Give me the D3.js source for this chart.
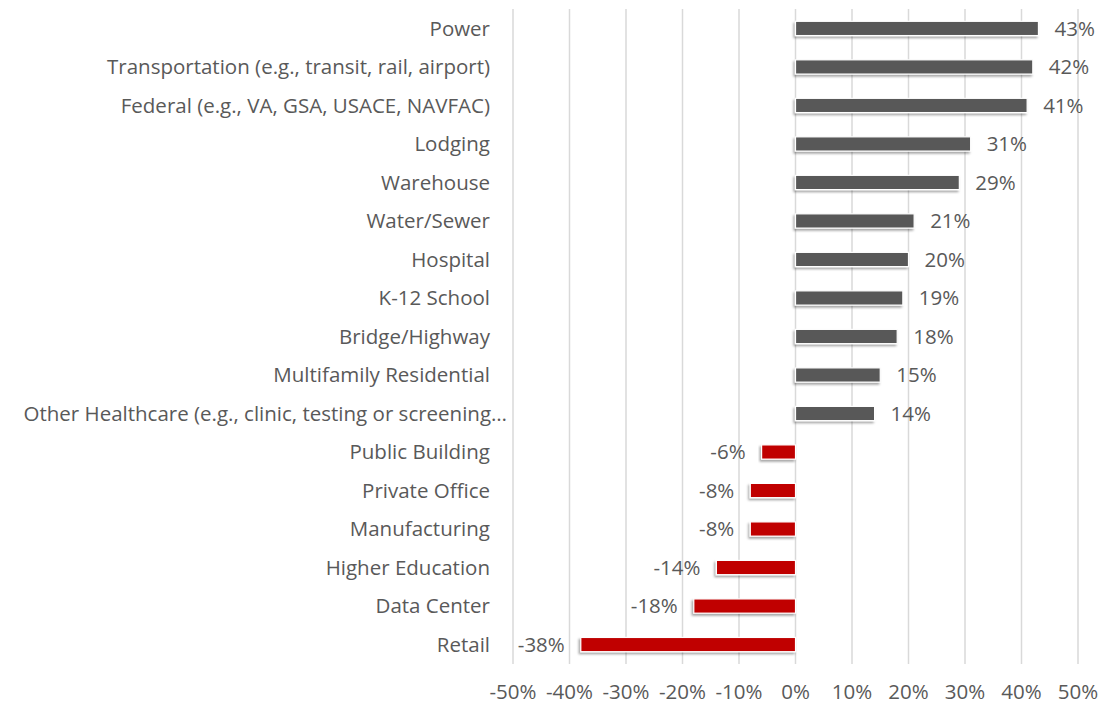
<!DOCTYPE html>
<html>
<head>
<meta charset="utf-8">
<script src="https://cdn.jsdelivr.net/npm/d3@7"></script>
<style>
  body { margin: 0; background: #fff; }
  text { font-family: "Open Sans", sans-serif; fill: #595959; }
</style>
</head>
<body>
<div class="chart"></div>
<script>
// Data.
const categories = [
    'Power',
    'Transportation (e.g., transit, rail, airport)',
    'Federal (e.g., VA, GSA, USACE, NAVFAC)',
    'Lodging',
    'Warehouse',
    'Water/Sewer',
    'Hospital',
    'K-12 School',
    'Bridge/Highway',
    'Multifamily Residential',
    'Other Healthcare (e.g., clinic, testing or screening\u2026',
    'Public Building',
    'Private Office',
    'Manufacturing',
    'Higher Education',
    'Data Center',
    'Retail'
];
const values = [43, 42, 41, 31, 29, 21, 20, 19, 18, 15, 14, -6, -8, -8, -14, -18, -38];
const xTicks = [-50, -40, -30, -20, -10, 0, 10, 20, 30, 40, 50];

// Dimensions.
const width = 1099, height = 707;
const margin = { top: 9, right: 21, bottom: 43, left: 513 };
const fontSize = 20.5,
    labelGap = 16;

const svg = d3.select('.chart')
    .append('svg')
        .attr('width', width)
        .attr('height', height);

// Drop shadow for bars.
const defs = svg.append('defs');
const filter = defs.append('filter')
    .attr('id', 'shadow')
    .attr('x', '-10%').attr('y', '-50%')
    .attr('width', '120%').attr('height', '200%');
filter.append('feDropShadow')
    .attr('dx', -1.5).attr('dy', 2)
    .attr('stdDeviation', 1.2)
    .attr('flood-color', '#000')
    .attr('flood-opacity', 0.35);

// Scales.
const x = d3.scaleLinear()
    .domain([-50, 50])
    .range([margin.left, width - margin.right]);

const y = d3.scaleBand()
    .domain(categories)
    .range([margin.top, height - margin.bottom])
    .paddingInner(0.63)
    .paddingOuter(0.32);

// Gridlines.
svg.append('g')
    .attr('class', 'grid')
    .selectAll('line')
    .data(xTicks)
    .join('line')
        .attr('x1', d => x(d))
        .attr('x2', d => x(d))
        .attr('y1', margin.top)
        .attr('y2', height - margin.bottom)
        .attr('stroke', '#d9d9d9')
        .attr('stroke-width', 1.5);

// X axis labels.
svg.append('g')
    .attr('class', 'x-axis')
    .selectAll('text')
    .data(xTicks)
    .join('text')
        .attr('x', d => x(d))
        .attr('y', 699)
        .attr('text-anchor', 'middle')
        .attr('font-size', fontSize)
        .text(d => d + '%');

// Category labels (the truncated one overhangs, as Excel draws it).
svg.append('g')
    .attr('class', 'y-axis')
    .selectAll('text')
    .data(categories)
    .join('text')
        .attr('x', d => d.endsWith('\u2026') ? 507 : 490)
        .attr('y', d => y(d) + y.bandwidth() / 2)
        .attr('dy', '0.35em')
        .attr('text-anchor', 'end')
        .attr('font-size', fontSize)
        .text(d => d);

const rows = categories.map((c, i) => ({ cat: c, val: values[i] }));

// Bars.
svg.append('g')
    .attr('class', 'bars')
    .selectAll('rect')
    .data(rows)
    .join('rect')
        .attr('x', d => x(Math.min(0, d.val)))
        .attr('y', d => y(d.cat))
        .attr('width', d => Math.abs(x(d.val) - x(0)))
        .attr('height', y.bandwidth())
        .attr('fill', d => d.val < 0 ? '#c00000' : '#595959')
        .attr('stroke', '#fff')
        .attr('stroke-width', 1.2)
        .attr('filter', 'url(#shadow)');

// Value labels.
svg.append('g')
    .attr('class', 'labels')
    .selectAll('text')
    .data(rows)
    .join('text')
        .attr('x', d => d.val < 0 ? x(d.val) - labelGap : x(d.val) + labelGap)
        .attr('y', d => y(d.cat) + y.bandwidth() / 2)
        .attr('dy', '0.35em')
        .attr('text-anchor', d => d.val < 0 ? 'end' : 'start')
        .attr('font-size', fontSize)
        .text(d => d.val + '%');
</script>
</body>
</html>
